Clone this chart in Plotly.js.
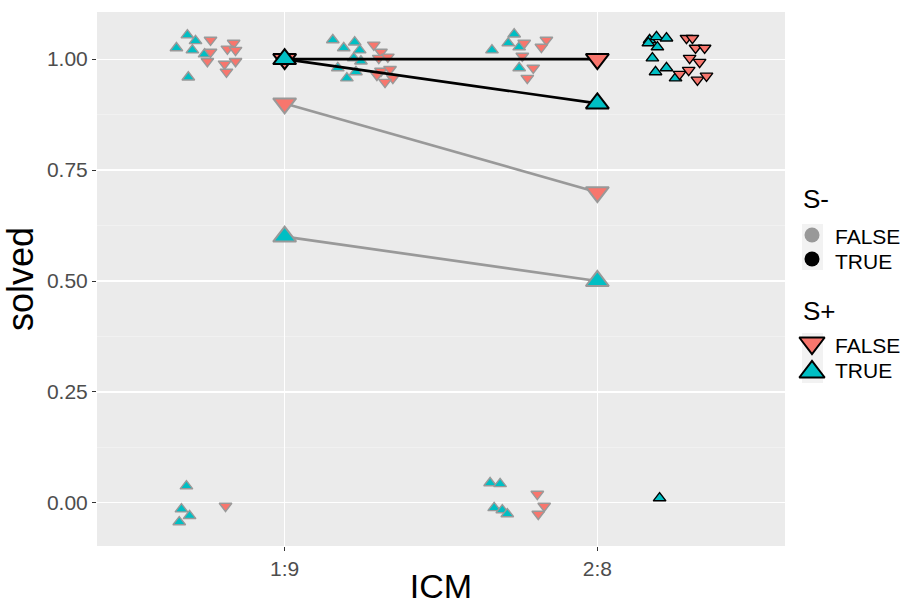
<!DOCTYPE html>
<html>
<head>
<meta charset="utf-8">
<script src="https://cdn.plot.ly/plotly-3.0.1.min.js"></script>
<style>
  html, body { margin: 0; padding: 0; background: #ffffff; }
  #chart { width: 907px; height: 605px; }
</style>
</head>
<body>
<div id="chart"></div>
<script>
// ---- Data ----
var categories = ['1:9', '2:8'];
var catPos = [1, 2];
var yTickVals = [0, 0.25, 0.5, 0.75, 1.0];
var legendLabels = ['FALSE', 'TRUE'];
var legendTitles = ['S-', 'S+'];

// Summary lines: mean solved by ICM, per S- (outline) and S+ (shape)
var sumNegFalse_PlusFalse = [0.9, 0.7];
var sumNegFalse_PlusTrue  = [0.6, 0.5];
var sumNegTrue_PlusFalse  = [1.0, 1.0];
var sumNegTrue_PlusTrue   = [1.0, 0.9];

// Jittered raw points: S- FALSE, S+ TRUE
var jNF_PT_x = [0.689, 0.715, 0.654, 0.705, 0.744, 0.692, 0.686, 0.670, 0.696, 0.663,
                1.154, 1.224, 1.189, 1.240, 1.221, 1.244, 1.170, 1.228, 1.199,
                1.734, 1.715, 1.663, 1.750, 1.750, 1.657, 1.689, 1.670, 1.696, 1.712];
var jNF_PT_y = [1.054, 1.041, 1.025, 1.020, 1.011, 0.959, 0.038, -0.014, -0.029, -0.043,
                1.043, 1.038, 1.025, 1.020, 1.002, 0.995, 0.980, 0.971, 0.957,
                1.056, 1.036, 1.020, 1.027, 0.980, 0.045, 0.043, -0.011, -0.016, -0.025];
// S- FALSE, S+ FALSE
var jNF_PF_x = [0.763, 0.837, 0.763, 0.817, 0.843, 0.753, 0.808, 0.843, 0.814, 0.811,
                1.285, 1.308, 1.301, 1.330, 1.308, 1.337, 1.295, 1.346, 1.321,
                1.766, 1.760, 1.837, 1.821, 1.795, 1.776, 1.808, 1.830, 1.811];
var jNF_PF_y = [1.043, 1.036, 1.016, 1.023, 1.020, 0.995, 0.989, 0.995, 0.971, -0.007,
                1.032, 1.016, 1.002, 1.005, 0.973, 0.977, 0.964, 0.957, 0.948,
                1.036, 1.007, 1.043, 1.027, 0.980, 0.957, 0.020, -0.007, -0.025];
// S- TRUE, S+ TRUE
var jNT_PT_x = [2.167, 2.189, 2.221, 2.163, 2.192, 2.176, 2.186, 2.221, 2.250, 2.199];
var jNT_PT_y = [1.043, 1.050, 1.047, 1.036, 1.027, 1.002, 0.971, 0.980, 0.957, 0.011];
// S- TRUE, S+ FALSE
var jNT_PF_x = [2.285, 2.304, 2.314, 2.343, 2.295, 2.327, 2.263, 2.292, 2.320, 2.349];
var jNT_PF_y = [1.047, 1.047, 1.025, 1.025, 1.002, 0.993, 0.966, 0.975, 0.953, 0.962];

// ---- Styles ----
var RED = '#F8766D', TEAL = '#00BFC4', GREY = '#999999', BLACK = '#000000';
var FONT = 'Liberation Sans, Arial, sans-serif';
var W = 907, H = 605, ML = 97, MT = 12, MB = 59, PANEL_R = 785;
var plotW = W - ML;
var mainDomain = (PANEL_R - ML) / plotW;
var legX0 = ML + 0.86 * plotW;

function jitter(x, y, fill, outline, sym) {
  return { x: x, y: y, type: 'scatter', mode: 'markers', showlegend: false, hoverinfo: 'skip',
    marker: { symbol: sym, size: 11, color: fill, line: { color: outline, width: 1.4 } } };
}
function sumLine(y, color) {
  return { x: catPos, y: y, type: 'scatter', mode: 'lines', showlegend: false, hoverinfo: 'skip',
    line: { color: color, width: 2.7 } };
}
function sumMarks(y, fill, outline, sym) {
  return { x: catPos, y: y, type: 'scatter', mode: 'markers', showlegend: false, hoverinfo: 'skip',
    marker: { symbol: sym, size: 20, color: fill, line: { color: outline, width: 2 } } };
}
// Legend key (drawn on a hidden pixel-scaled axis to the right of the panel)
function key(px, py, sym, fill, outline, size) {
  return { x: [px], y: [py], xaxis: 'x2', yaxis: 'y2', type: 'scatter', mode: 'markers',
    showlegend: false, hoverinfo: 'skip',
    marker: { symbol: sym, size: size, color: fill, line: { color: outline || fill, width: outline ? 2 : 0 } } };
}

var traces = [
  jitter(jNF_PT_x, jNF_PT_y, TEAL, GREY, 'triangle-up'),
  jitter(jNF_PF_x, jNF_PF_y, RED, GREY, 'triangle-down'),
  jitter(jNT_PT_x, jNT_PT_y, TEAL, BLACK, 'triangle-up'),
  jitter(jNT_PF_x, jNT_PF_y, RED, BLACK, 'triangle-down'),
  sumLine(sumNegFalse_PlusFalse, GREY),
  sumLine(sumNegFalse_PlusTrue, GREY),
  sumLine(sumNegTrue_PlusFalse, BLACK),
  sumLine(sumNegTrue_PlusTrue, BLACK),
  sumMarks(sumNegFalse_PlusFalse, RED, GREY, 'triangle-down'),
  sumMarks(sumNegFalse_PlusTrue, TEAL, GREY, 'triangle-up'),
  sumMarks(sumNegTrue_PlusFalse, RED, BLACK, 'triangle-down'),
  sumMarks(sumNegTrue_PlusTrue, TEAL, BLACK, 'triangle-up'),
  key(812, 235, 'circle', GREY, null, 15),
  key(812, 259, 'circle', BLACK, null, 15),
  key(812, 343, 'triangle-down', RED, BLACK, 22),
  key(812, 372, 'triangle-up', TEAL, BLACK, 22)
];

function legText(px, py, txt, size) {
  return { xref: 'x2', yref: 'y2', x: px, y: py, text: txt, showarrow: false,
    xanchor: 'left', yanchor: 'middle', font: { family: FONT, size: size, color: '#000' } };
}
var annotations = [
  legText(801, 199, legendTitles[0], 26),
  legText(833, 236, legendLabels[0], 21),
  legText(833, 261, legendLabels[1], 21),
  legText(801, 311, legendTitles[1], 26),
  legText(833, 345, legendLabels[0], 21),
  legText(833, 370, legendLabels[1], 21)
];

var shapes = [
  { type: 'rect', xref: 'x domain', yref: 'y domain', x0: 0, x1: 1, y0: 0, y1: 1,
    fillcolor: '#EBEBEB', line: { width: 0 }, layer: 'below' },
  { type: 'rect', xref: 'x2', yref: 'y2', x0: 802, x1: 823, y0: 224, y1: 270,
    fillcolor: '#F2F2F2', line: { width: 0 }, layer: 'below' },
  { type: 'rect', xref: 'x2', yref: 'y2', x0: 802, x1: 823, y0: 333, y1: 383,
    fillcolor: '#F2F2F2', line: { width: 0 }, layer: 'below' }
];

var layout = {
  width: W, height: H,
  margin: { l: ML, r: 0, t: MT, b: MB, autoexpand: false },
  paper_bgcolor: '#ffffff',
  plot_bgcolor: 'rgba(0,0,0,0)',
  font: { family: FONT, color: '#000' },
  showlegend: false,
  shapes: shapes,
  annotations: annotations,
  xaxis: {
    domain: [0, mainDomain],
    range: [0.4, 2.6], tickvals: catPos, ticktext: categories,
    showgrid: true, gridcolor: '#ffffff', gridwidth: 1.1,
    zeroline: false, showline: false,
    ticks: 'outside', ticklen: 4, tickwidth: 1, tickcolor: '#333333',
    tickfont: { size: 21, color: '#4D4D4D' },
    title: { text: 'ICM', font: { size: 34, color: '#000' }, standoff: 6 }
  },
  yaxis: {
    range: [-0.097, 1.106], tickvals: yTickVals, tickformat: '.2f',
    showgrid: true, gridcolor: '#ffffff', gridwidth: 1.1,
    minor: { tickvals: [0.125, 0.375, 0.625, 0.875], showgrid: true, gridcolor: '#F5F5F5', gridwidth: 0.6, ticks: '' },
    zeroline: false, showline: false,
    ticks: 'outside', ticklen: 4, tickwidth: 1, tickcolor: '#333333',
    tickfont: { size: 21, color: '#4D4D4D' },
    title: { text: 'solved', font: { size: 36, color: '#000' }, standoff: 4 }
  },
  xaxis2: { domain: [0.86, 1], range: [legX0, W], anchor: 'y2', visible: false, fixedrange: true },
  yaxis2: { domain: [0, 1], range: [H - MB, MT], anchor: 'x2', visible: false, fixedrange: true }
};

Plotly.newPlot('chart', traces, layout, { displayModeBar: false, staticPlot: true });
</script>
</body>
</html>
